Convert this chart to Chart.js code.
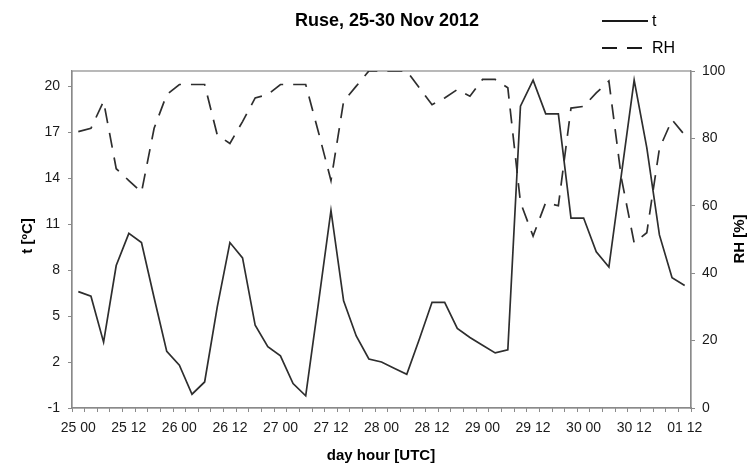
<!DOCTYPE html>
<html>
<head>
<meta charset="utf-8">
<script src="https://cdn.jsdelivr.net/npm/chart.js@4"></script>
<style>
html,body{margin:0;padding:0;background:#fff;}
canvas{display:block;}
</style>
</head>
<body>
<canvas id="c" width="749" height="467"></canvas>
<script>
const chartTitle = 'Ruse, 25-30 Nov 2012';
const xTitle = 'day hour [UTC]';
const yTitle = 't [ºC]';
const y2Title = 'RH [%]';
const seriesNames = ['t', 'RH'];

// visible tick labels (one every 4 three-hour steps)
const tickLabels = ['25 00','25 12','26 00','26 12','27 00','27 12','28 00','28 12','29 00','29 12','30 00','30 12','01 12'];
const tempTicks = [-1, 2, 5, 8, 11, 14, 17, 20];
const rhTicks = [0, 20, 40, 60, 80, 100];

// temperature [ºC], 3-hourly
const tValues = [6.6, 6.3, 3.3, 8.3, 10.4, 9.8, 6.2, 2.7, 1.8, -0.1,
                 0.7, 5.6, 9.8, 8.8, 4.4, 3.0, 2.4, 0.6, -0.2, 5.8,
                 11.9, 6.0, 3.7, 2.2, 2.0, 1.6, 1.2, 3.5, 5.9, 5.9,
                 4.2, 3.6, 3.1, 2.6, 2.8, 18.7, 20.4, 18.2, 18.2, 11.4,
                 11.4, 9.2, 8.2, 14.3, 20.4, 16.0, 10.3, 7.5, 7.0];
// relative humidity [%], 3-hourly
const rhValues = [82, 83, 91, 71, 67.5, 64, 83, 93, 96, 96,
                  96, 81, 78.5, 85, 92, 93, 96, 96, 96, 82,
                  67.5, 91, 95.5, 100, 100, 100, 100, 95, 90, 92,
                  94.5, 92.5, 97.5, 97.5, 95, 61, 51, 61, 60, 89,
                  89.5, 93.5, 97, 68, 49, 52, 77, 85.5, 81];

const categories = tValues.map((_, i) => (i % 4 === 0 ? tickLabels[i / 4] : ''));

const FONT = '"Liberation Sans", Arial, sans-serif';
const AXIS = '#8a8a8a';
const LINE = '#2e2e2e';

const decor = {
  id: 'decor',
  beforeDatasetsDraw(chart) {
    const {ctx, chartArea: a} = chart;
    ctx.save();
    ctx.strokeStyle = AXIS;
    ctx.lineWidth = 1.2;
    ctx.strokeRect(a.left, a.top, a.right - a.left, a.bottom - a.top);
    ctx.restore();
  },
  afterDraw(chart) {
    const {ctx} = chart;
    ctx.save();
    ctx.fillStyle = '#000';
    ctx.textAlign = 'center';
    ctx.textBaseline = 'middle';
    ctx.font = 'bold 18px ' + FONT;
    ctx.fillText(chartTitle, 387, 21);
    ctx.font = 'bold 15px ' + FONT;
    ctx.fillText(xTitle, 381, 456);
    ctx.save(); ctx.translate(28, 236); ctx.rotate(-Math.PI / 2); ctx.fillText(yTitle, 0, 0); ctx.restore();
    ctx.save(); ctx.translate(740, 239); ctx.rotate(-Math.PI / 2); ctx.fillText(y2Title, 0, 0); ctx.restore();

    // legend
    const ys = [21, 48];
    chart.data.datasets.forEach((ds, i) => {
      ctx.save();
      ctx.strokeStyle = '#1a1a1a';
      ctx.lineWidth = 2;
      ctx.setLineDash(ds.borderDash || []);
      ctx.beginPath();
      ctx.moveTo(602, ys[i]);
      ctx.lineTo(648, ys[i]);
      ctx.stroke();
      ctx.restore();
      ctx.font = '16px ' + FONT;
      ctx.textAlign = 'left';
      ctx.fillStyle = '#000';
      ctx.fillText(ds.label, 652, ys[i] + 1);
    });
    ctx.restore();
  }
};

new Chart(document.getElementById('c'), {
  type: 'line',
  data: {
    labels: categories,
    datasets: [
      {label: seriesNames[0], data: tValues, yAxisID: 'y', borderColor: LINE, borderWidth: 1.7,
       pointRadius: 0, tension: 0, fill: false},
      {label: seriesNames[1], data: rhValues, yAxisID: 'y1', borderColor: LINE, borderWidth: 1.7,
       borderDash: [15, 10], pointRadius: 0, tension: 0, fill: false}
    ]
  },
  options: {
    responsive: false,
    animation: false,
    devicePixelRatio: 1,
    layout: {padding: {top: 71, left: 0, right: 0, bottom: 0}},
    plugins: {legend: {display: false}, title: {display: false}, tooltip: {enabled: false}},
    scales: {
      x: {
        type: 'category',
        offset: true,
        grid: {offset: true, drawOnChartArea: false, drawTicks: true, tickLength: 4, color: AXIS, lineWidth: 1},
        border: {color: AXIS, width: 1.2},
        ticks: {autoSkip: false, maxRotation: 0, minRotation: 0, padding: 8, color: '#1a1a1a',
                font: {size: 14, family: FONT}},
        afterFit(s) { s.height = 59; }
      },
      y: {
        position: 'left',
        min: -1, max: 21,
        grid: {drawOnChartArea: false, drawTicks: true, tickLength: 4, color: AXIS, lineWidth: 1},
        border: {color: AXIS, width: 1.2},
        ticks: {padding: 8, color: '#1a1a1a', font: {size: 14, family: FONT}},
        afterBuildTicks(s) { s.ticks = tempTicks.map(v => ({value: v})); },
        afterFit(s) { s.width = 72; }
      },
      y1: {
        position: 'right',
        min: 0, max: 100,
        grid: {drawOnChartArea: false, drawTicks: true, tickLength: 4, color: AXIS, lineWidth: 1},
        border: {color: AXIS, width: 1.2},
        ticks: {padding: 7, color: '#1a1a1a', font: {size: 14, family: FONT}},
        afterBuildTicks(s) { s.ticks = rhTicks.map(v => ({value: v})); },
        afterFit(s) { s.width = 58; }
      }
    }
  },
  plugins: [decor]
});
</script>
</body>
</html>
